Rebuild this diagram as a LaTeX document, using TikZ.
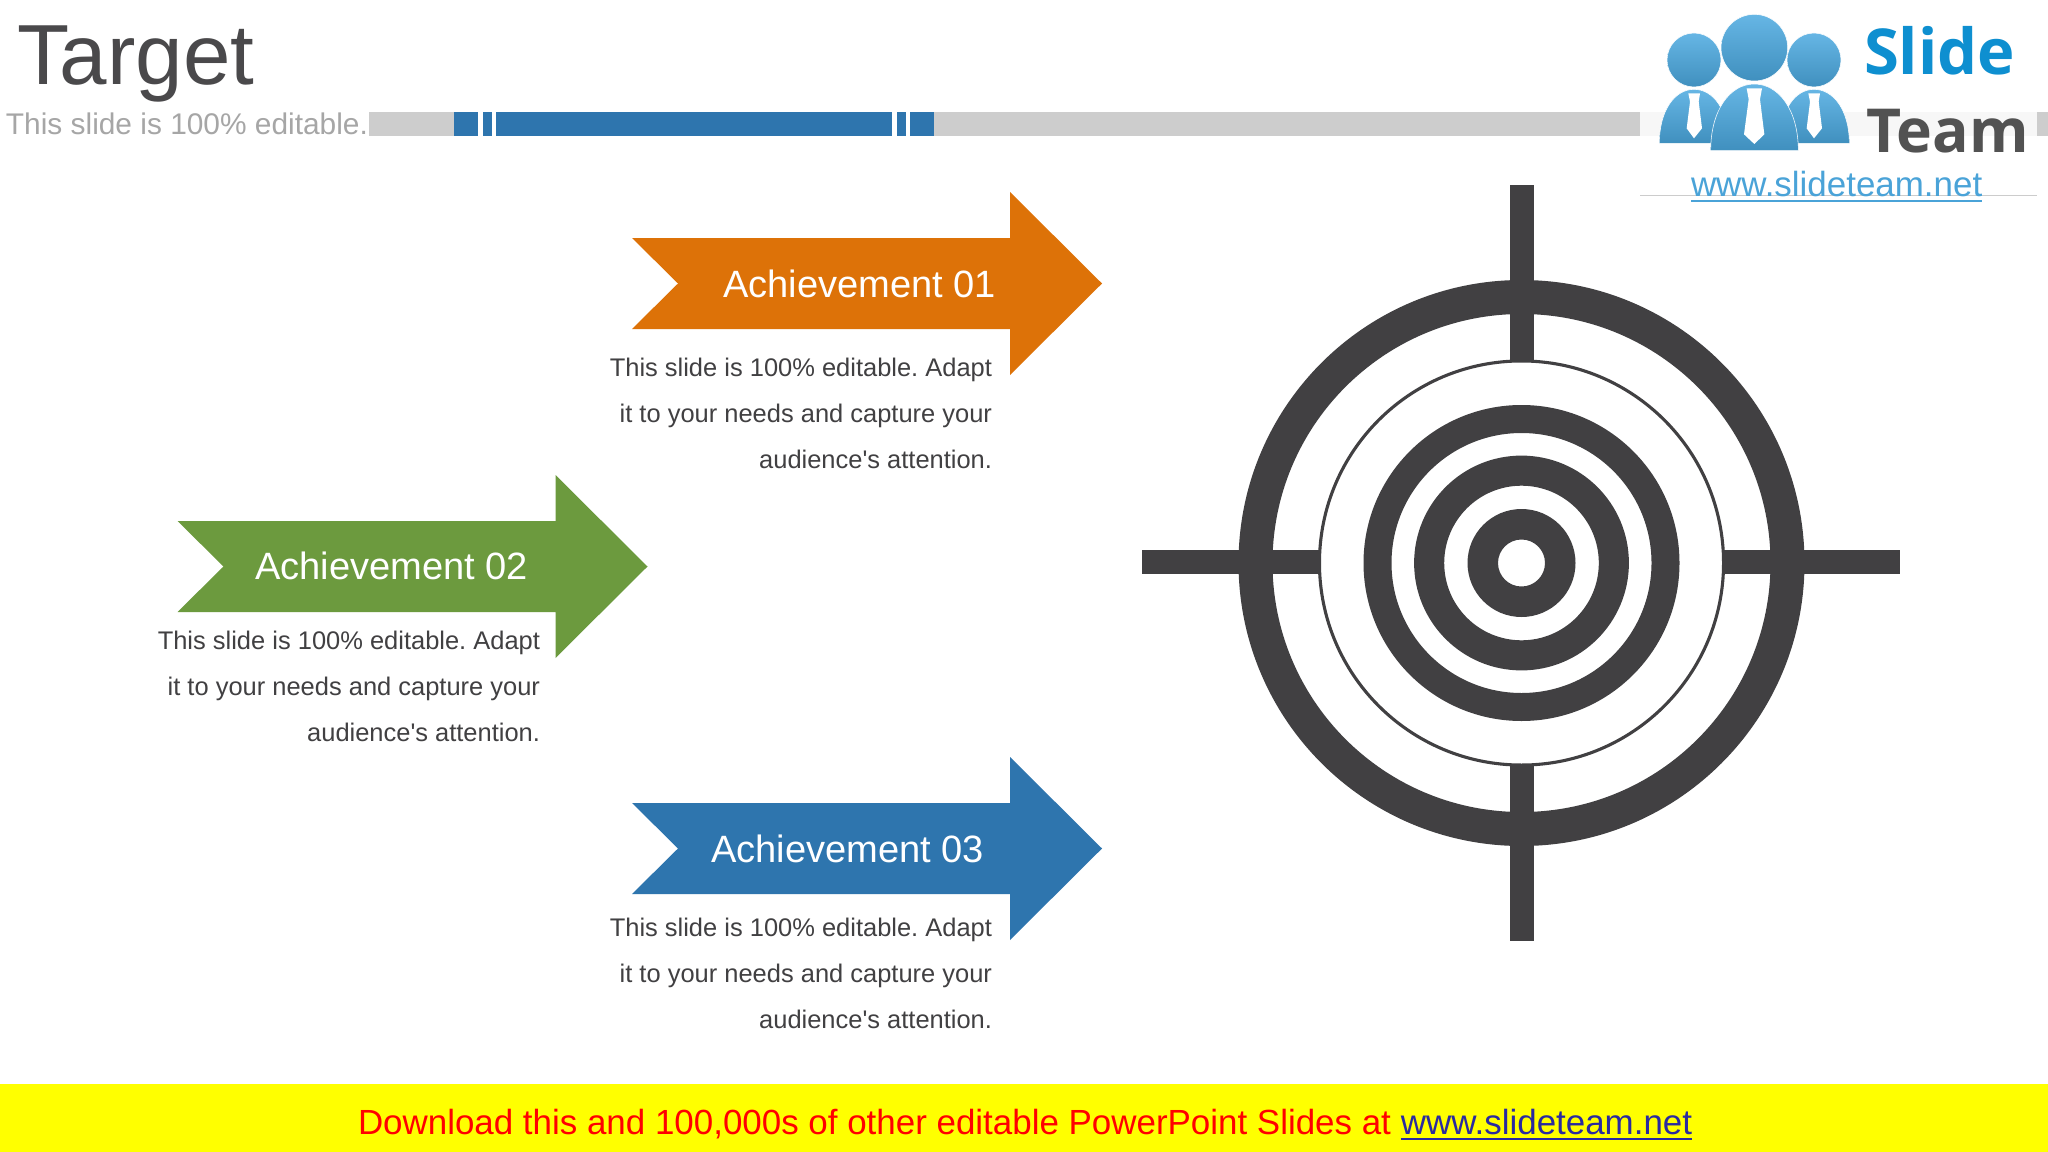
\documentclass[tikz,border=0pt]{standalone}
\usepackage{fontspec}
\setmainfont{Liberation Sans}[Ligatures=TeXOff]
\newfontfamily\logofont{Open Sans}
\definecolor{barblue}{HTML}{2E75AE}
\definecolor{bargray}{HTML}{CDCDCD}
\definecolor{ink}{HTML}{414042}
\definecolor{orangeA}{HTML}{DD7208}
\definecolor{greenA}{HTML}{6C9A3E}
\definecolor{linkblue}{HTML}{4AA3D8}
\definecolor{logoblue}{HTML}{4BA9E0}
\definecolor{slideblue}{HTML}{0E8FD0}
\definecolor{footblue}{HTML}{2A2AA0}
\definecolor{footyellow}{RGB}{255,255,0}
\definecolor{footred}{RGB}{255,0,0}
\tikzset{
  x=0.75pt,y=-0.75pt,
  txt/.style={inner sep=0pt,outer sep=0pt},
  head/.style={txt,anchor=base east,text=white,font=\fontsize{28.55pt}{34pt}\selectfont},
  body/.style={txt,anchor=base east,text=ink,font=\frenchspacing\fontsize{19.1pt}{23pt}\selectfont},
  achvarrow/.pic={
    \fill[pic actions] (0,0) -- (378,0) -- (378,-46) -- (470,45.5) -- (378,137) -- (378,91) -- (0,91) -- (46,45.5) -- cycle;
  },
  person/.style={top color=#1!85!white,bottom color=#1!85!black,draw=white,line width=0.4pt},
}
\begin{document}
\begin{tikzpicture}
\useasboundingbox (0,0) rectangle (2048,1152);
\fill[white] (0,0) rectangle (2048,1152);

% title
\node[txt,anchor=base west,text=ink!95!white,font=\fontsize{64pt}{70pt}\selectfont] (title) at (17,85) {Target};
\node[txt,anchor=base west,text=black!35,font=\frenchspacing\fontsize{22.4pt}{26pt}\selectfont] (sub) at (6,135) {This slide is 100\% editable.};

% header bar
\fill[bargray] (369,112) rectangle (2048,136);
\fill[barblue] (454,112) rectangle (934,136);
\fill[white] (478,112) rectangle (483,136);
\fill[white] (492,112) rectangle (496,136);
\fill[white] (892,112) rectangle (897,136);
\fill[white] (906,112) rectangle (910,136);

% logo
\fill[white] (1640,0) rectangle (2037,195);
\fill[black!3] (1640,112) rectangle (2037,136);
\draw[black!20,line width=0.6pt] (1640,195) -- (2037,195);
\begin{scope}[shift={(1620,0)},scale=1/3]
  \shade[person=logoblue] (118,430) .. controls (118,330) and (165,268) .. (222,268) .. controls (280,268) and (326,330) .. (326,430) -- cycle;
  \shade[person=logoblue] (480,430) .. controls (480,330) and (525,268) .. (582,268) .. controls (640,268) and (688,330) .. (688,430) -- cycle;
  \shade[person=logoblue] (272,452) .. controls (272,330) and (330,252) .. (403,252) .. controls (476,252) and (535,330) .. (535,452) -- cycle;
  \shade[person=logoblue] (222,180) circle (81);
  \shade[person=logoblue] (582,180) circle (81);
  \shade[person=logoblue] (403,143) circle (100);
  \fill[white] (205,280) -- (240,280) -- (236,305) -- (246,385) -- (222,415) -- (200,385) -- (210,305) -- cycle;
  \fill[white] (380,265) -- (426,265) -- (420,298) -- (433,403) -- (403,432) -- (372,403) -- (386,298) -- cycle;
  \fill[white] (565,280) -- (600,280) -- (596,305) -- (606,385) -- (582,415) -- (560,385) -- (570,305) -- cycle;
\end{scope}
\node[txt,anchor=base west,text=black!68,font=\logofont\bfseries\fontsize{45.5pt}{56pt}\selectfont] (team) at (1866,152) {Team};
\node[txt,anchor=base west,text=slideblue,font=\logofont\bfseries\fontsize{47.5pt}{56pt}\selectfont] (slide) at (1864,75) {Slide};
\node[txt,anchor=base west,text=linkblue,font=\fontsize{26.2pt}{30pt}\selectfont] (url) at (1691,196) {www.slideteam.net};
\draw[linkblue,line width=1.5pt] ([yshift=-3.6pt]url.base west) -- ([yshift=-3.6pt]url.base east);

% arrows
\pic[fill=orangeA] at (632,238) {achvarrow};
\pic[fill=greenA] at (177.5,521) {achvarrow};
\pic[fill=barblue] at (632,803) {achvarrow};

\node[head] (h1) at (996,297) {Achievement 01};
\node[body] (b1a) at (992,376) {This slide is 100\% editable. Adapt};
\node[body] (b1b) at (992,422) {it to your needs and capture your};
\node[body] (b1c) at (992,468) {audience's attention.};

\node[head] (h2) at (528,579) {Achievement 02};
\node[body] (b2a) at (540,649) {This slide is 100\% editable. Adapt};
\node[body] (b2b) at (540,695) {it to your needs and capture your};
\node[body] (b2c) at (540,741) {audience's attention.};

\node[head] (h3) at (984,862) {Achievement 03};
\node[body] (b3a) at (992,936) {This slide is 100\% editable. Adapt};
\node[body] (b3b) at (992,982) {it to your needs and capture your};
\node[body] (b3c) at (992,1028) {audience's attention.};

% target
\coordinate (c) at (1521.5,563);
\fill[ink,even odd rule] (c) circle (283) (c) circle (249);
\fill[ink,even odd rule] (c) circle (203.6) (c) circle (200.5);
\fill[ink,even odd rule] (c) circle (158) (c) circle (130);
\fill[ink,even odd rule] (c) circle (107.4) (c) circle (77.3);
\fill[ink,even odd rule] (c) circle (54) (c) circle (23.5);
\fill[ink] (1509.5,185) rectangle (1533.5,361);
\fill[ink] (1509.5,765) rectangle (1533.5,941);
\fill[ink] (1142,550) rectangle (1319,574);
\fill[ink] (1724,550) rectangle (1900,574);

% footer
\fill[footyellow] (0,1084) rectangle (2048,1152);
\node[txt,anchor=base west,text=footred,font=\frenchspacing\fontsize{26.2pt}{30pt}\selectfont] (foot) at (358,1134) {Download this and 100,000s of other editable PowerPoint Slides at};
\node[txt,anchor=base west,text=footblue,font=\fontsize{26.2pt}{30pt}\selectfont] (footlink) at ([xshift=7.3pt]foot.base east) {www.slideteam.net};
\draw[footblue,line width=1.5pt] ([yshift=-3.6pt]footlink.base west) -- ([yshift=-3.6pt]footlink.base east);
\end{tikzpicture}
\end{document}
